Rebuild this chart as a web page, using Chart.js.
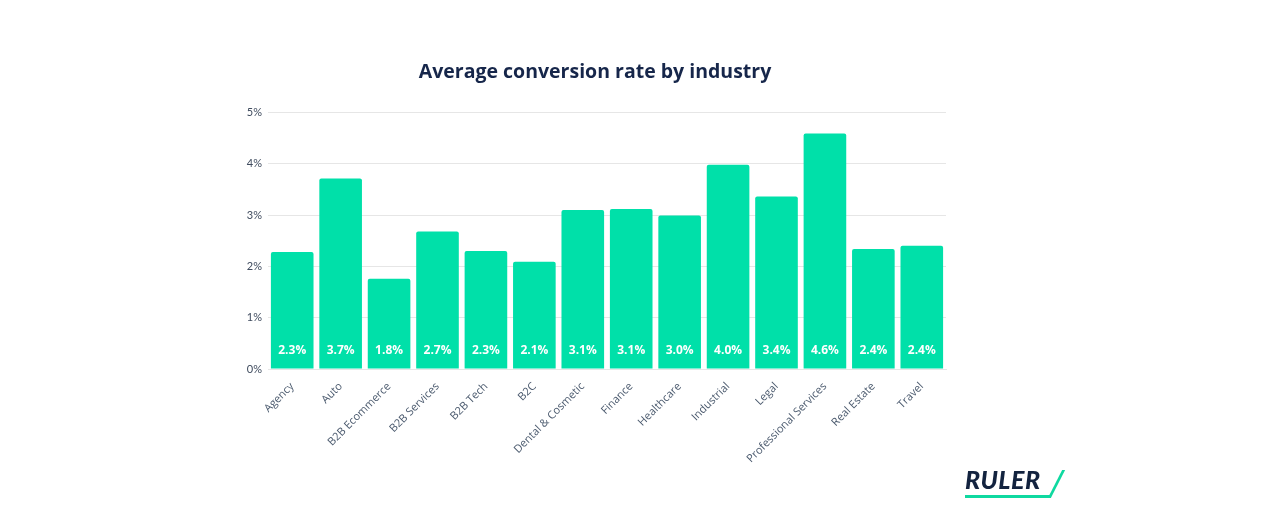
<!DOCTYPE html>
<html>
<head>
<meta charset="utf-8">
<script src="https://cdn.jsdelivr.net/npm/chart.js@4"></script>
<style>
  body { margin: 0; background: #fff; }
  #wrap { position: relative; width: 1279px; height: 513px; }
  #logo { position: absolute; left: 965px; top: 464px; font: italic 900 25px Lato, sans-serif; color: #13233f; letter-spacing: 0.5px; }
  #logo .line { position: absolute; left: 0; top: 31px; width: 86px; height: 3px; background: #0fd9a0; }
  #logo .slash { position: absolute; left: 90px; top: 6px; width: 3px; height: 28px; background: #0fd9a0; transform: skewX(-27deg); }
</style>
</head>
<body>
<div id="wrap">
  <canvas id="conversionChart" width="1279" height="513"></canvas>
  <div id="logo">RULER<div class="line"></div><div class="slash"></div></div>
</div>
<script>
const industries = ['Agency', 'Auto', 'B2B Ecommerce', 'B2B Services', 'B2B Tech', 'B2C',
  'Dental & Cosmetic', 'Finance', 'Healthcare', 'Industrial', 'Legal',
  'Professional Services', 'Real Estate', 'Travel'];
const rates = [2.28, 3.71, 1.76, 2.68, 2.30, 2.09, 3.10, 3.12, 2.99, 3.98, 3.36, 4.59, 2.34, 2.40];
const rateLabels = ['2.3%', '3.7%', '1.8%', '2.7%', '2.3%', '2.1%', '3.1%', '3.1%', '3.0%', '4.0%', '3.4%', '4.6%', '2.4%', '2.4%'];

// white value labels near the bottom of each bar
const barLabels = {
  id: 'barLabels',
  afterDatasetsDraw(chart) {
    const ctx = chart.ctx;
    const meta = chart.getDatasetMeta(0);
    ctx.save();
    ctx.fillStyle = '#ffffff';
    ctx.font = 'bold 12px "Open Sans", sans-serif';
    ctx.textAlign = 'center';
    ctx.textBaseline = 'middle';
    meta.data.forEach((bar, i) => {
      ctx.fillText(rateLabels[i], bar.x, bar.base - 18);
    });
    ctx.restore();
  }
};

const ctx = document.getElementById('conversionChart').getContext('2d');
new Chart(ctx, {
  type: 'bar',
  data: {
    labels: industries,
    datasets: [{
      data: rates,
      backgroundColor: '#00e0a9',
      borderRadius: { topLeft: 2, topRight: 2 },
      borderSkipped: 'bottom',
      barPercentage: 0.88,
      categoryPercentage: 1
    }]
  },
  options: {
    responsive: false,
    animation: false,
    layout: { padding: { left: 244, right: 333, top: 0, bottom: 0 } },
    plugins: {
      legend: { display: false },
      tooltip: { enabled: false },
      title: {
        display: true,
        text: 'Average conversion rate by industry',
        color: '#16264a',
        font: { family: '"Open Sans", sans-serif', size: 19.5, weight: 'bold' },
        padding: { top: 61, bottom: 28 }
      }
    },
    scales: {
      y: {
        min: 0,
        max: 5,
        ticks: {
          stepSize: 1,
          padding: 6,
          color: '#3f4b5e',
          font: { family: 'Lato, sans-serif', size: 11 },
          callback: v => v + '%'
        },
        grid: { color: '#e6e6e6', drawTicks: false },
        border: { display: false },
        afterFit: scale => { scale.width = 24; }
      },
      x: {
        ticks: {
          maxRotation: 45,
          minRotation: 45,
          color: '#4b5a6e',
          font: { family: '"Open Sans", sans-serif', size: 11 }
        },
        grid: { display: false },
        border: { color: '#e6e6e6' },
        afterFit: scale => { scale.height = 144; }
      }
    }
  },
  plugins: [barLabels]
});
</script>
</body>
</html>
